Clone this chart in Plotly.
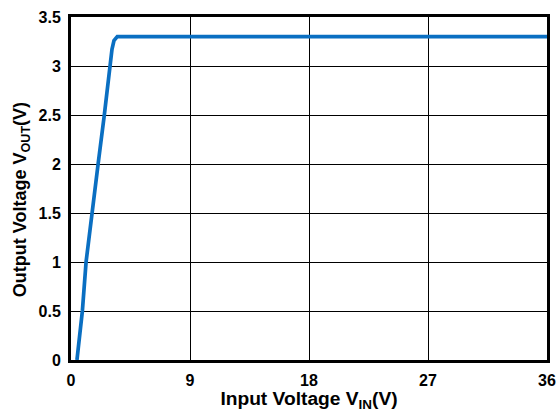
import plotly.graph_objects as go

# Output voltage vs input voltage (LDO dropout characteristic)
vin = [0.45, 0.6, 0.86, 1.14, 1.57, 2.05, 2.52, 2.95, 3.1, 3.25, 3.4, 3.5, 3.6, 9, 18, 27, 36]
vout = [0.0, 0.18, 0.5, 1.0, 1.5, 2.0, 2.5, 3.0, 3.17, 3.26, 3.29, 3.3, 3.3, 3.3, 3.3, 3.3, 3.3]

x_ticks = [0, 9, 18, 27, 36]
y_ticks = [0, 0.5, 1, 1.5, 2, 2.5, 3, 3.5]

font_family = "Liberation Sans, Arial, sans-serif"

fig = go.Figure()
fig.add_trace(go.Scatter(
    x=vin, y=vout, mode="lines",
    line=dict(color="#0a6fc2", width=3.7),
    showlegend=False,
))

axis_common = dict(
    showline=True, linecolor="black", linewidth=3, mirror=True,
    showgrid=True, gridcolor="black", gridwidth=1.3,
    zeroline=False, ticks="", automargin=False,
    tickfont=dict(family=font_family, size=16, color="black", weight="bold"),
)

fig.update_xaxes(
    range=[0, 36], tickvals=x_ticks, ticktext=[str(t) for t in x_ticks],
    title_text="Input Voltage V<sub>IN</sub>(V)", title_standoff=1,
    title_font=dict(family=font_family, size=19.2, color="black", weight="bold"),
    ticklabelstandoff=4,
    **axis_common,
)
fig.update_yaxes(
    range=[0, 3.5], tickvals=y_ticks, ticktext=[f"{t:g}" for t in y_ticks],
    ticklabelstandoff=4,
    **axis_common,
)

# Y-axis title placed slightly below the plot centre
fig.add_annotation(
    text="Output Voltage V<sub>OUT</sub>(V)",
    xref="paper", yref="paper", x=-0.105, y=0.466,
    xanchor="center", yanchor="middle", textangle=-90, showarrow=False,
    font=dict(family=font_family, size=18, color="black", weight="bold"),
)

fig.update_layout(
    width=557, height=412,
    margin=dict(l=71, r=10, t=17, b=52),
    plot_bgcolor="white", paper_bgcolor="white",
)

fig.write_html("out.html")
